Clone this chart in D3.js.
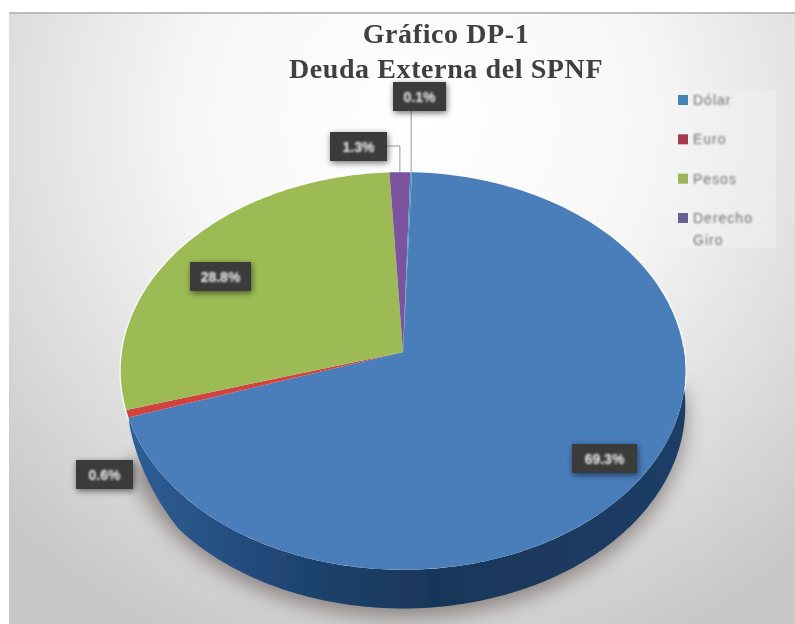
<!DOCTYPE html>
<html><head><meta charset="utf-8">
<script src="https://cdn.jsdelivr.net/npm/d3@7"></script>
<style>html,body{margin:0;padding:0;background:#fff}svg{display:block}</style>
</head><body><svg id="c" width="795" height="624"></svg>
<script>
const titleLines = ["Gráfico DP-1", "Deuda Externa del SPNF"];
const categories = ["Dólar", "Euro", "Pesos", "Derecho Giro", "Otros"];
const values = [69.3, 0.6, 28.8, 1.3, 0.1];
const valueLabels = ["69.3%", "0.6%", "28.8%", "1.3%", "0.1%"];
const legendCategories = ["Dólar", "Euro", "Pesos", "Derecho Giro"];

const colors = ["#4a7ebb", "#d2433f", "#9dbb55", "#7d52a0", "#3fa0b8"];
const legendColors = ["#3f86b4", "#a83a4a", "#9db55a", "#6b5f92"];
const labelBoxes = [
  {x:572,y:444,w:65,h:29},{x:76,y:460,w:57,h:29},{x:190,y:262,w:61,h:29},
  {x:330,y:132,w:57,h:29},{x:393,y:82,w:53,h:29}
];

const svg = d3.select("#c");
const defs = svg.append("defs");
const bg = defs.append("radialGradient").attr("id","bg").attr("gradientUnits","userSpaceOnUse")
  .attr("cx",420).attr("cy",120).attr("r",570);
[[0,"#ffffff"],[0.4,"#f7f7f7"],[0.7,"#e0e0e0"],[1,"#c8c8c8"]].forEach(s=>bg.append("stop").attr("offset",s[0]).attr("stop-color",s[1]));
const sideG = defs.append("linearGradient").attr("id","side").attr("x1",0).attr("x2",1).attr("y1",0).attr("y2",0);
[[0,"#2e5f96"],[0.3,"#1f4471"],[0.55,"#193658"],[1,"#1c3d66"]].forEach(s=>sideG.append("stop").attr("offset",s[0]).attr("stop-color",s[1]));
const blur = (id,s)=>defs.append("filter").attr("id",id).attr("x","-30%").attr("y","-30%").attr("width","160%").attr("height","160%")
  .append("feGaussianBlur").attr("stdDeviation",s);
blur("sh",10); blur("soft",0.8); blur("txt",0.55); blur("boxsh",3);

svg.append("rect").attr("x",9).attr("y",13).attr("width",786).attr("height",611).attr("fill","url(#bg)");
svg.append("rect").attr("x",9).attr("y",12).attr("width",786).attr("height",2).attr("fill","#bdbdbd").attr("filter","url(#txt)");

// perspective projection of the pie disc
const CX=403, CY=352, RX=281, RY=197, K=0.0954, DEPTH=35;
const project = (a,depth=0)=>{
  const u=Math.sin(a), v=Math.cos(a), w=1+K*v;
  return [CX+RX*u/w, CY-RY*v/w+depth/w];
};
const rot = 2.0*Math.PI/180;
const arcs = d3.pie().sort(null).startAngle(rot).endAngle(rot+2*Math.PI)(values);
const line = d3.line();
const sample = (a0,a1,n=120)=>d3.range(n+1).map(i=>a0+(a1-a0)*i/n);

const frontEnd = arcs[0].endAngle;
const front = sample(Math.PI/2-0.03, frontEnd, 200);
const taper = a=>Math.min(1,Math.pow(Math.max(0,frontEnd-a)/0.4,0.6));
const sidePts = front.map(a=>project(a,0)).concat(front.slice().reverse().map(a=>project(a,DEPTH*taper(a))));

// shadow under the pie
svg.append("path").attr("d",line(front.map(a=>project(a,DEPTH+8)))+"Z")
  .attr("fill","#5a5048").attr("opacity",0.6).attr("filter","url(#sh)");
svg.append("path").attr("d",line(sample(0,2*Math.PI,200).map(a=>project(a,0)))+"Z")
  .attr("fill","#fff").attr("stroke","#fff").attr("stroke-width",2.5).attr("filter","url(#txt)");

const pieG = svg.append("g").attr("filter","url(#txt)");
pieG.append("path").attr("d",line(sidePts)+"Z").attr("fill","url(#side)");
pieG.selectAll("path.s").data(arcs).join("path").attr("class","s")
  .attr("d",d=>line([[CX,CY]].concat(sample(d.startAngle,d.endAngle).map(a=>project(a)))) + "Z")
  .attr("fill",(d,i)=>colors[i]);

// leader lines
const mid = i=>project((arcs[i].startAngle+arcs[i].endAngle)/2);
const lead = svg.append("g").attr("fill","none").attr("stroke","#9a9a9a").attr("stroke-width",1);
const m4=mid(4), m3=mid(3);
lead.append("path").attr("d",line([[m4[0],labelBoxes[4].y+labelBoxes[4].h],[m4[0],m4[1]]]));
lead.append("path").attr("d",line([[labelBoxes[3].x+labelBoxes[3].w,labelBoxes[3].y+14],[m3[0],labelBoxes[3].y+14],[m3[0],m3[1]]]));

// data labels
const lab = svg.selectAll("g.l").data(valueLabels).join("g").attr("class","l");
lab.append("rect").attr("x",(d,i)=>labelBoxes[i].x+1).attr("y",(d,i)=>labelBoxes[i].y+2)
  .attr("width",(d,i)=>labelBoxes[i].w).attr("height",(d,i)=>labelBoxes[i].h)
  .attr("fill","#000").attr("opacity",0.55).attr("filter","url(#boxsh)");
lab.append("rect").attr("x",(d,i)=>labelBoxes[i].x).attr("y",(d,i)=>labelBoxes[i].y)
  .attr("width",(d,i)=>labelBoxes[i].w).attr("height",(d,i)=>labelBoxes[i].h)
  .attr("fill","#3b3b3b");
lab.append("text").attr("x",(d,i)=>labelBoxes[i].x+labelBoxes[i].w/2).attr("y",(d,i)=>labelBoxes[i].y+labelBoxes[i].h/2+5)
  .attr("text-anchor","middle").attr("font-family","'Liberation Sans',sans-serif").attr("font-weight","bold").attr("font-size",14)
  .attr("fill","#f2f2f2").attr("filter","url(#soft)").text(d=>d);

// title
svg.append("g").selectAll("text").data(titleLines).join("text")
  .attr("x",446).attr("y",(d,i)=>43+i*35).attr("text-anchor","middle")
  .attr("font-family","'Liberation Serif',serif").attr("font-weight","bold").attr("font-size",28)
  .attr("letter-spacing",0.6)
  .attr("fill","#3f3f3f").attr("filter","url(#txt)").text(d=>d);

// legend
const leg = svg.append("g");
leg.append("rect").attr("x",664).attr("y",90).attr("width",112).attr("height",158).attr("fill","#f4f4f4").attr("opacity",0.4);
const legY = d3.scalePoint().domain(legendCategories).range([100,218]);
const li = leg.selectAll("g").data(legendCategories).join("g").attr("transform",d=>`translate(0,${legY(d)})`);
li.append("rect").attr("x",678).attr("y",-5).attr("width",10).attr("height",10).attr("fill",(d,i)=>legendColors[i]).attr("filter","url(#txt)");
const lt = li.append("text").attr("x",693).attr("y",5).attr("font-family","'Liberation Sans',sans-serif").attr("font-size",14)
  .attr("letter-spacing",1).attr("fill","#707070").attr("filter","url(#soft)");
lt.each(function(d){
  const sel=d3.select(this);
  d.split(" ").forEach((w,i)=>sel.append("tspan").attr("x",693).attr("dy",i?22:0).text(w));
});
</script></body></html>
